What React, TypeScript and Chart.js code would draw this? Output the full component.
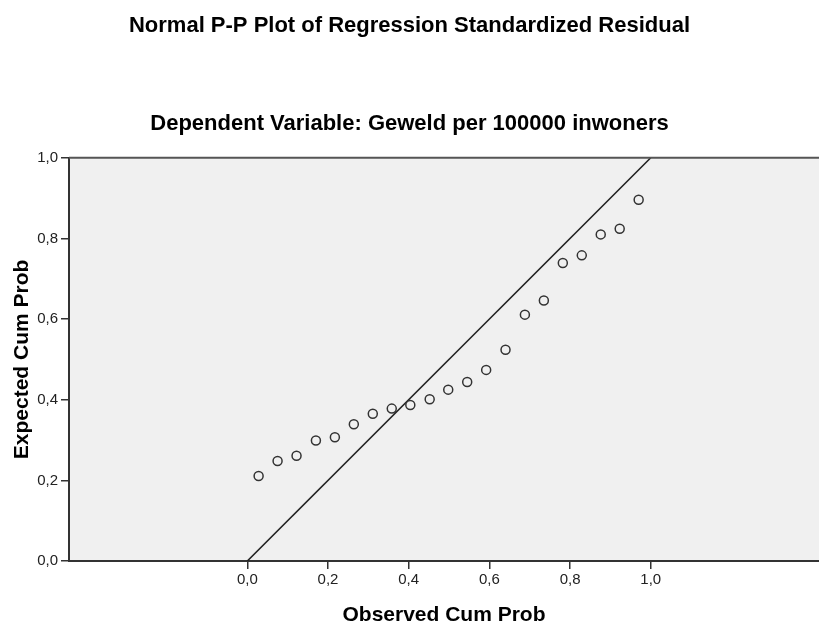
import React, { useEffect, useRef } from "react";
import { Chart, registerables } from "chart.js";

Chart.register(...registerables);

// ---- data ----
const observedCumProb = [
  0.028, 0.075, 0.122, 0.17, 0.217, 0.264, 0.311, 0.358, 0.404, 0.452, 0.498,
  0.545, 0.592, 0.64, 0.688, 0.735, 0.782, 0.829, 0.876, 0.923, 0.97,
];
const expectedCumProb = [
  0.211, 0.248, 0.261, 0.299, 0.307, 0.339, 0.365, 0.378, 0.387, 0.401, 0.425,
  0.444, 0.474, 0.524, 0.611, 0.646, 0.739, 0.758, 0.81, 0.824, 0.896,
];
const referenceLineX = [0, 1];
const referenceLineY = [0, 1];
const tickValues = [0, 0.2, 0.4, 0.6, 0.8, 1.0];
const titleText = "Normal P-P Plot of Regression Standardized Residual";
const subtitleText = "Dependent Variable: Geweld per 100000 inwoners";
const xAxisTitle = "Observed Cum Prob";
const yAxisTitle = "Expected Cum Prob";

const FONT = "'Liberation Sans', Arial, Helvetica, sans-serif";
const fmt = (v: number) => v.toFixed(1).replace(".", ",");

const plotBg = {
  id: "plotBg",
  beforeDraw(chart: any) {
    const { ctx, chartArea } = chart;
    ctx.save();
    ctx.fillStyle = "#f0f0f0";
    ctx.fillRect(chartArea.left, chartArea.top, chartArea.right - chartArea.left, chartArea.bottom - chartArea.top);
    ctx.restore();
  },
  afterDraw(chart: any) {
    const { ctx, chartArea } = chart;
    ctx.save();
    ctx.strokeStyle = "#555";
    ctx.lineWidth = 2;
    ctx.beginPath();
    ctx.moveTo(chartArea.left, chartArea.top);
    ctx.lineTo(chartArea.right, chartArea.top);
    ctx.stroke();
    ctx.restore();
  },
};

export default function App() {
  const ref = useRef<HTMLCanvasElement | null>(null);

  useEffect(() => {
    if (!ref.current) return;
    const chart = new Chart(ref.current, {
      type: "scatter",
      data: {
        datasets: [
          {
            data: referenceLineX.map((x, i) => ({ x, y: referenceLineY[i] })),
            showLine: true,
            borderColor: "#222",
            borderWidth: 1.6,
            pointRadius: 0,
            order: 2,
          },
          {
            data: observedCumProb.map((x, i) => ({ x, y: expectedCumProb[i] })),
            pointRadius: 4.5,
            pointBorderWidth: 1.5,
            borderColor: "#333",
            backgroundColor: "rgba(0,0,0,0)",
            order: 1,
          },
        ],
      },
      options: {
        responsive: false,
        animation: false,
        layout: { padding: 0, autoPadding: false },
        plugins: {
          legend: { display: false },
          tooltip: { enabled: false },
          title: {
            display: true,
            text: titleText,
            color: "#000",
            font: { family: FONT, size: 22, weight: "bold", lineHeight: 1.2 },
            padding: { top: 13, bottom: 71 },
          },
          subtitle: {
            display: true,
            text: subtitleText,
            color: "#000",
            font: { family: FONT, size: 22, weight: "bold", lineHeight: 1.2 },
            padding: { top: 0, bottom: 21 },
          },
        },
        scales: {
          x: {
            type: "linear",
            min: -0.442,
            max: 1.417,
            afterBuildTicks: (scale: any) => {
              scale.ticks = tickValues.map((v) => ({ value: v }));
            },
            afterFit: (scale: any) => {
              scale.height = 61;
            },
            ticks: {
              callback: (v: any) => fmt(Number(v)),
              color: "#222",
              font: { family: FONT, size: 15 },
              padding: 2,
              maxRotation: 0,
              autoSkip: false,
            },
            grid: {
              drawOnChartArea: false,
              drawTicks: true,
              tickLength: 8,
              color: "#333",
              lineWidth: 1.5,
            },
            border: { display: true, color: "#333", width: 2 },
            title: {
              display: true,
              text: xAxisTitle,
              color: "#000",
              font: { family: FONT, size: 21, weight: "bold", lineHeight: "13px" },
              padding: 0,
            },
          },
          y: {
            type: "linear",
            min: 0,
            max: 1,
            afterBuildTicks: (scale: any) => {
              scale.ticks = tickValues.map((v) => ({ value: v }));
            },
            afterFit: (scale: any) => {
              scale.width = 69;
            },
            ticks: {
              callback: (v: any) => fmt(Number(v)),
              color: "#222",
              font: { family: FONT, size: 15 },
              padding: 3,
              autoSkip: false,
            },
            grid: {
              drawOnChartArea: false,
              drawTicks: true,
              tickLength: 8,
              color: "#333",
              lineWidth: 1.5,
            },
            border: { display: true, color: "#333", width: 2 },
            title: {
              display: true,
              text: yAxisTitle,
              color: "#000",
              font: { family: FONT, size: 21, weight: "bold", lineHeight: 1.2 },
              padding: { top: 10, bottom: 0 },
            },
          },
        },
      },
      plugins: [plotBg],
    });
    return () => chart.destroy();
  }, []);

  return (
    <canvas
      ref={ref}
      width={819}
      height={622}
      style={{ position: "absolute", left: 0, top: 0, display: "block" }}
    />
  );
}
